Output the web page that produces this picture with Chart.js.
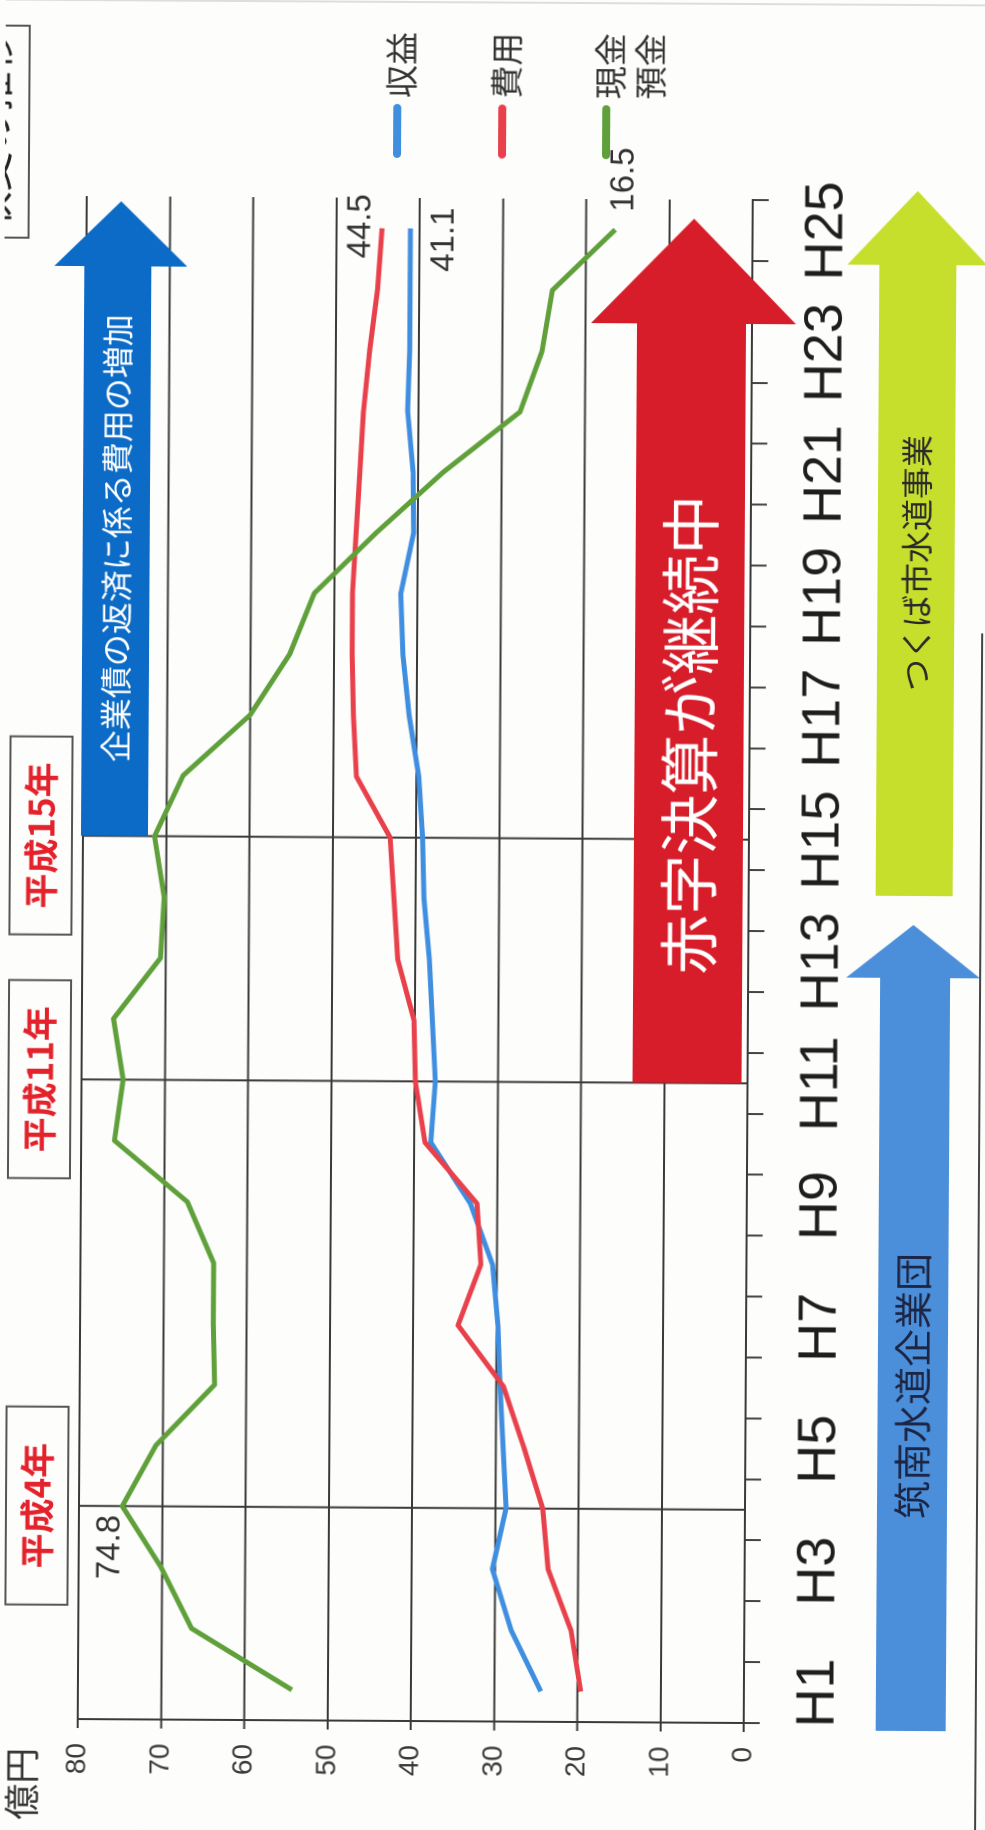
<!DOCTYPE html>
<html>
<head>
<meta charset="utf-8">
<script src="https://cdn.jsdelivr.net/npm/chart.js@4.4.1/dist/chart.umd.min.js"></script>
<style>
  html, body { margin: 0; padding: 0; width: 985px; height: 1830px; overflow: hidden; background: #fdfdfb; }
  /* the chart is laid out landscape and turned a quarter turn, like the scanned page */
  #sheet { position: absolute; left: -422.5px; top: 422.5px; width: 1830px; height: 985px;
           transform: rotate(-89.66deg); background: #fdfdfb; }
  #sheet canvas { position: absolute; left: 0; top: 0; }
</style>
</head>
<body>
<div id="sheet"><canvas id="myChart" width="1830" height="985"></canvas></div>
<script>
// data (億円)
const years = ['H1', 'H2', 'H3', 'H4', 'H5', 'H6', 'H7', 'H8', 'H9', 'H10', 'H11', 'H12', 'H13',
               'H14', 'H15', 'H16', 'H17', 'H18', 'H19', 'H20', 'H21', 'H22', 'H23', 'H24', 'H25'];
const revenue = [24.4, 28.0, 30.3, 28.7, 29.1, 29.5, 29.8, 30.5, 33.2, 38.0, 37.5, 37.9, 38.3,
                 39.0, 39.2, 39.7, 40.9, 41.7, 42.0, 40.5, 40.6, 41.3, 41.1, 41.1, 41.1];
const expense = [19.6, 20.8, 23.6, 24.3, 26.6, 29.1, 34.6, 31.9, 32.4, 38.7, 39.9, 40.1, 42.1,
                 42.6, 43.1, 47.2, 47.6, 47.8, 47.8, 47.4, 47.0, 46.6, 45.9, 45.0, 44.5];
const cash = [54.3, 66.4, 70.1, 74.8, 70.8, 63.8, 64.0, 64.0, 67.2, 76.0, 75.0, 76.2, 70.6,
              70.2, 71.4, 68.0, 60.0, 55.3, 52.4, 45.0, 37.0, 27.8, 25.2, 24.0, 16.5];
const valueTicks = [0, 10, 20, 30, 40, 50, 60, 70, 80];
const markYears = ['H4', 'H11', 'H15'];
const markLabels = ['平成4年', '平成11年', '平成15年'];

const JP = '"Noto Sans CJK JP", "Noto Sans", sans-serif';
const NUM = '"Liberation Sans", Arial, sans-serif';

function arrowRight(ctx, x0, x1, y0, y1, hy0, hy1, tip, fill) {
  const mid = (hy0 + hy1) / 2;
  ctx.beginPath();
  ctx.moveTo(x0, y0); ctx.lineTo(x1, y0); ctx.lineTo(x1, hy0); ctx.lineTo(tip, mid);
  ctx.lineTo(x1, hy1); ctx.lineTo(x1, y1); ctx.lineTo(x0, y1); ctx.closePath();
  ctx.fillStyle = fill;
  ctx.fill();
}

function label(ctx, text, x, y, font, color, align) {
  ctx.font = font;
  ctx.fillStyle = color;
  ctx.textAlign = align || 'center';
  ctx.textBaseline = 'middle';
  ctx.fillText(text, x, y);
}

const overlay = {
  id: 'overlay',
  beforeDatasetsDraw(chart) {
    const { ctx, chartArea: a, scales: { x } } = chart;
    ctx.save();
    ctx.strokeStyle = '#3a3a3a';
    ctx.lineWidth = 2;
    markYears.forEach(yr => {
      const px = x.getPixelForValue(years.indexOf(yr));
      ctx.beginPath(); ctx.moveTo(px, a.top); ctx.lineTo(px, a.bottom); ctx.stroke();
    });
    ctx.restore();
  },
  afterDraw(chart) {
    const { ctx, scales: { x } } = chart;
    const at = yr => x.getPixelForValue(years.indexOf(yr));
    ctx.save();

    // arrows
    arrowRight(ctx, at('H15'), 1562, 80, 147, 50, 183, 1627, '#0b6bc6');
    label(ctx, '企業債の返済に係る費用の増加', 1290, 114, '32px ' + JP, '#ffffff');
    arrowRight(ctx, at('H11'), 1508, 633, 742, 587, 792, 1613, '#d71d2a');
    label(ctx, '赤字決算が継続中', 1097, 688, '60px ' + JP, '#ffffff');
    arrowRight(ctx, 102, 855, 880, 950, 846, 980, 908, '#4b8fda');
    label(ctx, '筑南水道企業団', 447, 915, '38px ' + JP, '#1c2543');
    arrowRight(ctx, 937, 1568, 875, 952, 843, 983, 1642, '#c6df2c');
    label(ctx, 'つくば市水道事業', 1270, 914, '32px ' + JP, '#2a2a2a');

    // year boxes
    markYears.forEach((yr, i) => {
      const cx = at(yr);
      ctx.fillStyle = '#fdfdfb';
      ctx.fillRect(cx - 99, 9, 198, 62);
      ctx.strokeStyle = '#555';
      ctx.lineWidth = 2;
      ctx.strokeRect(cx - 99, 9, 198, 62);
      label(ctx, markLabels[i], cx, 40, 'bold 35px ' + JP, '#e3222c');
    });

    // title box cut by the page edge
    ctx.strokeStyle = '#555';
    ctx.lineWidth = 2;
    ctx.strokeRect(1590, -40, 212, 64);
    label(ctx, '収支の推移', 1696, -12, '40px ' + JP, '#222');

    // unit
    label(ctx, '億円', 44, 26, '36px ' + JP, '#333', 'center');

    // value labels at points
    const pt = (ds, i) => chart.getDatasetMeta(ds).data[i];
    const last = years.length - 1;
    const peak = cash.indexOf(Math.max(...cash.slice(0, 6)));
    let p = pt(2, peak);
    label(ctx, cash[peak].toFixed(1), p.x - 9, p.y - 12, '33px ' + NUM, '#333', 'right');
    p = pt(1, last);
    label(ctx, expense[last].toFixed(1), p.x + 2, p.y - 21, '33px ' + NUM, '#333');
    p = pt(0, last);
    label(ctx, revenue[last].toFixed(1), p.x - 11, p.y + 34, '33px ' + NUM, '#333');
    p = pt(2, last);
    label(ctx, cash[last].toFixed(1), p.x + 18, p.y + 9, '33px ' + NUM, '#333', 'left');

    // legend
    const items = [
      { c: '#3f8ee0', t: ['収益'], y: 392 },
      { c: '#e8414b', t: ['費用'], y: 497 },
      { c: '#5fa03a', t: ['現金', '預金'], y: 601 }
    ];
    ctx.lineCap = 'round';
    items.forEach(it => {
      ctx.strokeStyle = it.c;
      ctx.lineWidth = 8;
      ctx.beginPath(); ctx.moveTo(1676, it.y); ctx.lineTo(1722, it.y); ctx.stroke();
      it.t.forEach((s, k) => label(ctx, s, 1732, it.y + 4 + k * 40, '33px ' + JP, '#333', 'left'));
    });

    // page frame bits
    ctx.lineCap = 'butt';
    ctx.strokeStyle = '#444';
    ctx.lineWidth = 2;
    ctx.beginPath(); ctx.moveTo(0, 980); ctx.lineTo(1200, 980); ctx.stroke();
    ctx.strokeStyle = '#ddd';
    ctx.beginPath(); ctx.moveTo(1828, 0); ctx.lineTo(1828, 985); ctx.stroke();
    ctx.restore();
  }
};

const ctx = document.getElementById('myChart').getContext('2d');
const myChart = new Chart(ctx, {
  type: 'line',
  data: {
    labels: years,
    datasets: [
      { label: '収益', data: revenue, borderColor: '#3f8ee0', borderWidth: 5, order: 2 },
      { label: '費用', data: expense, borderColor: '#e8414b', borderWidth: 5, order: 1 },
      { label: '現金預金', data: cash, borderColor: '#5fa03a', borderWidth: 5, order: 0 }
    ]
  },
  options: {
    responsive: false,
    animation: false,
    devicePixelRatio: 2,
    layout: { padding: { left: 0, right: 198, top: 82, bottom: 0 } },
    elements: { point: { radius: 0 }, line: { tension: 0, borderJoinStyle: 'round' } },
    plugins: { legend: { display: false }, tooltip: { enabled: false } },
    scales: {
      x: {
        offset: true,
        grid: { offset: true, drawOnChartArea: false, tickLength: 16, color: '#444', lineWidth: 2 },
        border: { display: true, color: '#3a3a3a', width: 2 },
        ticks: {
          autoSkip: false, maxRotation: 0, padding: 26, color: '#1e1e1e',
          font: { family: '"Liberation Sans Narrow", "Arial Narrow", "Liberation Sans", sans-serif', size: 54 },
          callback: (v, i) => (i % 2 === 0 ? years[i] : '')
        },
        afterFit: s => { s.height = 237; }
      },
      y: {
        min: 0, max: 80,
        afterBuildTicks: s => { s.ticks = valueTicks.map(v => ({ value: v })); },
        grid: { color: '#3a3a3a', lineWidth: 2, tickLength: 9 },
        border: { display: true, color: '#3a3a3a', width: 2 },
        ticks: { padding: 15, color: '#3a3a3a', font: { family: NUM, size: 28 } },
        afterFit: s => { s.width = 109; }
      }
    }
  },
  plugins: [overlay]
});
</script>
</body>
</html>
